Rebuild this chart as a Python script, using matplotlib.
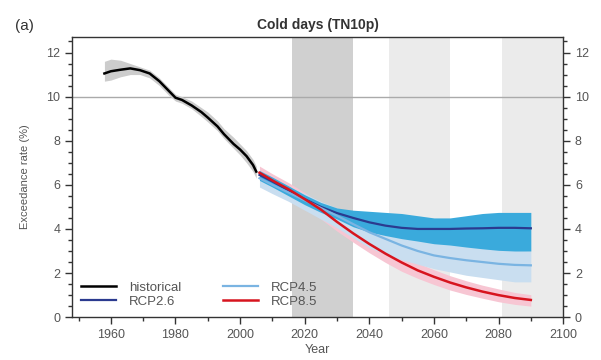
import matplotlib
matplotlib.use("Agg")
import matplotlib.pyplot as plt
from matplotlib.ticker import MultipleLocator

plt.rcParams['font.family'] = ['Liberation Sans', 'DejaVu Sans']

# ---- data ----
hist_years = [1958, 1960, 1963, 1966, 1969, 1972, 1975, 1978, 1980, 1982,
              1985, 1988, 1990, 1993, 1995, 1998, 2000, 2002, 2004, 2005]
hist = [11.05, 11.15, 11.22, 11.28, 11.2, 11.05, 10.7, 10.25, 9.95, 9.85,
        9.6, 9.3, 9.05, 8.65, 8.3, 7.85, 7.6, 7.3, 6.9, 6.6]
hist_lo = [10.7, 10.75, 10.9, 11.0, 11.0, 10.85, 10.5, 10.05, 9.8, 9.7,
           9.45, 9.1, 8.85, 8.45, 8.1, 7.65, 7.35, 7.0, 6.6, 6.3]
hist_hi = [11.6, 11.7, 11.65, 11.5, 11.35, 11.2, 10.85, 10.4, 10.1, 10.0,
           9.8, 9.5, 9.3, 8.9, 8.55, 8.15, 7.85, 7.55, 7.15, 6.85]

fut_years = [2006, 2010, 2015, 2020, 2025, 2030, 2035, 2040, 2045, 2050,
             2055, 2060, 2065, 2070, 2075, 2080, 2085, 2090]
rcp26 = [6.45, 6.15, 5.75, 5.35, 5.0, 4.72, 4.5, 4.3, 4.15, 4.05,
         4.0, 4.0, 4.0, 4.02, 4.03, 4.05, 4.05, 4.03]
rcp26_lo = [6.2, 5.9, 5.5, 5.1, 4.75, 4.45, 4.1, 3.86, 3.7, 3.56,
            3.45, 3.33, 3.27, 3.18, 3.1, 3.03, 3.0, 3.0]
rcp26_hi = [6.65, 6.35, 5.95, 5.55, 5.2, 4.95, 4.85, 4.8, 4.75, 4.7,
            4.6, 4.5, 4.5, 4.6, 4.7, 4.75, 4.75, 4.75]
rcp45 = [6.3, 6.0, 5.65, 5.3, 4.95, 4.6, 4.22, 3.85, 3.55, 3.25,
         3.0, 2.8, 2.68, 2.58, 2.5, 2.42, 2.37, 2.35]
rcp45_lo = [5.9, 5.6, 5.25, 4.85, 4.45, 4.05, 3.6, 3.15, 2.85, 2.6,
            2.4, 2.2, 2.05, 1.9, 1.8, 1.7, 1.6, 1.6]
rcp45_hi = [6.6, 6.3, 5.95, 5.6, 5.25, 4.95, 4.7, 4.45, 4.2, 3.95,
            3.75, 3.55, 3.4, 3.3, 3.2, 3.1, 3.05, 3.0]
rcp85 = [6.55, 6.2, 5.8, 5.35, 4.88, 4.32, 3.8, 3.32, 2.88, 2.48,
         2.12, 1.83, 1.57, 1.35, 1.16, 1.0, 0.87, 0.78]
rcp85_lo = [6.2, 5.85, 5.4, 4.95, 4.45, 3.9, 3.4, 2.92, 2.48, 2.08,
            1.76, 1.48, 1.23, 1.03, 0.86, 0.7, 0.58, 0.5]
rcp85_hi = [6.85, 6.5, 6.1, 5.65, 5.15, 4.6, 4.1, 3.65, 3.2, 2.8,
            2.45, 2.15, 1.88, 1.65, 1.45, 1.28, 1.12, 1.02]

periods = [(2016, 2035), (2046, 2065), (2081, 2100)]
period_colors = ['#d0d0d0', '#ebebeb', '#ebebeb']

# ---- figure ----
fig = plt.figure(figsize=(6.01, 3.6), dpi=100)
ax = fig.add_axes([0.12, 0.119, 0.817, 0.778])

for (a, b), c in zip(periods, period_colors):
    ax.axvspan(a, b, color=c, lw=0, zorder=0)
ax.axhline(10, color='#aaaaaa', lw=1.0, zorder=1)

ax.fill_between(hist_years, hist_lo, hist_hi, color='#cccccc', lw=0, zorder=2)
ax.fill_between(fut_years, rcp85_lo, rcp85_hi, color='#f7c6d3', lw=0, zorder=2)
ax.fill_between(fut_years, rcp45_lo, rcp45_hi, color='#c9def0', lw=0, zorder=3)
ax.fill_between(fut_years, rcp26_lo, rcp26_hi, color='#3aaadc', lw=0, zorder=4)

ax.plot(hist_years, hist, color='black', lw=1.8, zorder=6, label='historical')
ax.plot(fut_years, rcp26, color='#2b3a8f', lw=1.6, zorder=6, label='RCP2.6')
ax.plot(fut_years, rcp45, color='#7ab4e2', lw=1.6, zorder=6, label='RCP4.5')
ax.plot(fut_years, rcp85, color='#d7141e', lw=1.8, zorder=7, label='RCP8.5')

ax.set_xlim(1948, 2100)
ax.set_ylim(0, 12.7)
ax.xaxis.set_major_locator(MultipleLocator(20))
ax.xaxis.set_minor_locator(MultipleLocator(10))
ax.yaxis.set_major_locator(MultipleLocator(2))
ax.yaxis.set_minor_locator(MultipleLocator(0.5))
ax.tick_params(axis='both', which='both', direction='out', colors='#333333',
               labelcolor='#555555', labelsize=9)
ax.tick_params(axis='y', which='both', right=True, labelright=True)
ax.tick_params(which='major', length=5, width=1)
ax.tick_params(which='minor', length=3, width=1)
for s in ax.spines.values():
    s.set_color('#333333')
    s.set_linewidth(1.0)

ax.set_xlabel('Year', fontsize=9, color='#555555', labelpad=2)
ax.set_ylabel('Exceedance rate (%)', fontsize=8, color='#555555', labelpad=12)
ax.set_title('Cold days (TN10p)', fontsize=10, fontweight='bold', color='#333333', pad=6)
fig.text(0.025, 0.918, '(a)', fontsize=11, color='#333333')

leg = ax.legend(loc='lower left', ncol=2, frameon=False, fontsize=9.5,
                handlelength=2.6, columnspacing=3.2, handletextpad=1.0,
                labelspacing=0.15, borderaxespad=0.3, labelcolor='#555555')

fig.savefig('out.png', dpi=100)
